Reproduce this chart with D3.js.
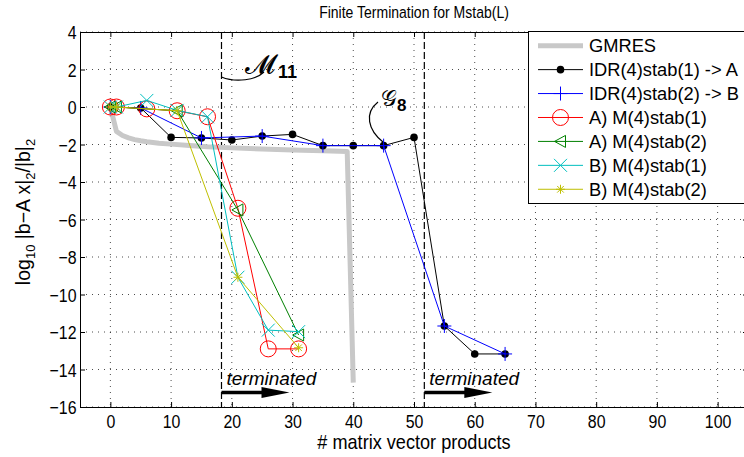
<!DOCTYPE html>
<html><head><meta charset="utf-8">
<script src="https://cdn.jsdelivr.net/npm/d3@7/dist/d3.min.js"></script>
<style>
html,body{margin:0;padding:0;background:#fff;overflow:hidden}
text{font-family:"Liberation Sans",Arial,sans-serif}
</style></head>
<body><svg id="c" width="744" height="457"></svg>
<script>
// ---- data ----
const xTicks = [0,10,20,30,40,50,60,70,80,90,100];
const yTicks = [-16,-14,-12,-10,-8,-6,-4,-2,0,2,4];

const gmresX = [0,1,2,3,4,5,6,8,10,13,16,20,25,30,35,39,40];
const gmresY = [0,-1.3,-1.52,-1.65,-1.74,-1.8,-1.85,-1.93,-1.98,-2.05,-2.12,-2.18,-2.24,-2.29,-2.33,-2.37,-14.7];

const idr1X = [0,5,10,15,20,25,30,35,40,45,50,55,60,65];
const idr1Y = [0,-0.05,-1.62,-1.65,-1.76,-1.55,-1.46,-2.06,-2.06,-2.06,-1.62,-11.68,-13.17,-13.17];

const idr2X = [0,5,15,25,35,45,55,65];
const idr2Y = [0,-0.05,-1.65,-1.55,-2.06,-2.06,-11.68,-13.17];

const a1X = [0,1,6,11,16,21,26,31];
const a1Y = [0,0,-0.1,-0.2,-0.52,-5.4,-12.9,-12.9];

const a2X = [0,1,11,21,31];
const a2Y = [0,0,-0.2,-5.49,-12.16];

const b1X = [0,1,6,11,16,21,26,31];
const b1Y = [0,0,0.35,-0.18,-0.52,-9.08,-11.9,-11.98];

const b2X = [0,1,11,21,31];
const b2Y = [0,0,-0.2,-9.08,-12.84];

const legendLabels = ["GMRES","IDR(4)stab(1) -> A","IDR(4)stab(2) -> B","A) M(4)stab(1)","A) M(4)stab(2)","B) M(4)stab(1)","B) M(4)stab(2)"];
const termX = [18.3, 51.7];

// ---- setup ----
const svg = d3.select("#c");
const L=80, R=748, T=32, B=407;
const x = d3.scaleLinear().domain([-5,105]).range([L,R]);
const y = d3.scaleLinear().domain([-16,4]).range([B,T]);

// grid
const grid = svg.append("g");
xTicks.forEach(t=>grid.append("line").attr("x1",x(t)).attr("x2",x(t)).attr("y1",T).attr("y2",B)
  .attr("stroke","#000").attr("stroke-width",1).attr("stroke-dasharray","1,5").attr("opacity",0.7));
yTicks.forEach(t=>grid.append("line").attr("x1",L).attr("x2",R).attr("y1",y(t)).attr("y2",y(t))
  .attr("stroke","#000").attr("stroke-width",1).attr("stroke-dasharray","1,5").attr("opacity",0.7));

// axes
const fmt = d=> d<0 ? "\u2212"+Math.abs(d) : String(d);
const axB = svg.append("g").attr("transform",`translate(0,${B})`)
  .call(d3.axisBottom(x).tickValues(xTicks).tickSizeInner(-5).tickSizeOuter(0).tickPadding(8).tickFormat(fmt));
const axT = svg.append("g").attr("transform",`translate(0,${T})`)
  .call(d3.axisTop(x).tickValues(xTicks).tickSizeInner(-5).tickSizeOuter(0).tickFormat(""));
const axL = svg.append("g").attr("transform",`translate(${L},0)`)
  .call(d3.axisLeft(y).tickValues(yTicks).tickSizeInner(-5).tickSizeOuter(0).tickPadding(4).tickFormat(fmt));
const axR = svg.append("g").attr("transform",`translate(${R},0)`)
  .call(d3.axisRight(y).tickValues(yTicks).tickSizeInner(-5).tickSizeOuter(0).tickFormat(""));
[axB,axT,axL,axR].forEach(a=>{
  a.selectAll("path").attr("stroke","#000").attr("stroke-width",1);
  a.selectAll("line").attr("stroke","#000");
  a.selectAll("text").attr("font-size",18.5).attr("fill","#000").attr("transform","scale(0.86,1)");
});
axL.selectAll("text").attr("dy","0.36em");

// dashed termination lines
termX.forEach(t=>svg.append("line").attr("x1",x(t)).attr("x2",x(t)).attr("y1",T).attr("y2",B)
  .attr("stroke","#000").attr("stroke-width",1.2).attr("stroke-dasharray","7,3"));

// line helper
const line = d3.line().x(d=>x(d[0])).y(d=>y(d[1]));
const zip = (a,b)=>a.map((v,i)=>[v,b[i]]);

// marker drawers
function mk(g, type, cx, cy, color){
  if(type==="dot") g.append("circle").attr("cx",cx).attr("cy",cy).attr("r",3.8).attr("fill",color);
  else if(type==="plus"){
    g.append("path").attr("d",`M${cx-7},${cy}H${cx+7}M${cx},${cy-7}V${cy+7}`).attr("stroke",color).attr("stroke-width",1);
  } else if(type==="circle") g.append("circle").attr("cx",cx).attr("cy",cy).attr("r",8).attr("fill","none").attr("stroke",color).attr("stroke-width",1);
  else if(type==="tri"){
    g.append("path").attr("d",`M${cx-6},${cy}L${cx+5},${cy-6}L${cx+5},${cy+6}Z`).attr("fill","none").attr("stroke",color).attr("stroke-width",1);
  } else if(type==="x"){
    g.append("path").attr("d",`M${cx-6.5},${cy-6.5}L${cx+6.5},${cy+6.5}M${cx-6.5},${cy+6.5}L${cx+6.5},${cy-6.5}`).attr("stroke",color).attr("stroke-width",1);
  } else if(type==="star"){
    const s=4.5, d=3.3;
    g.append("path").attr("d",`M${cx-s},${cy}H${cx+s}M${cx},${cy-s}V${cy+s}M${cx-d},${cy-d}L${cx+d},${cy+d}M${cx-d},${cy+d}L${cx+d},${cy-d}`).attr("stroke",color).attr("stroke-width",1);
  }
}

const series = [
  {X:idr1X,Y:idr1Y,c:"#000000",m:"dot"},
  {X:idr2X,Y:idr2Y,c:"#0000ff",m:"plus"},
  {X:a1X,Y:a1Y,c:"#ff0000",m:"circle"},
  {X:a2X,Y:a2Y,c:"#008000",m:"tri"},
  {X:b1X,Y:b1Y,c:"#00bfbf",m:"x"},
  {X:b2X,Y:b2Y,c:"#bfbf00",m:"star"}
];

// GMRES
svg.append("path").datum(zip(gmresX,gmresY)).attr("d",line).attr("fill","none")
  .attr("stroke","#c8c8c8").attr("stroke-width",5).attr("stroke-linejoin","round");

series.forEach(s=>{
  const g = svg.append("g");
  const data = zip(s.X,s.Y);
  g.append("path").datum(data).attr("d",line).attr("fill","none").attr("stroke",s.c).attr("stroke-width",1);
  data.forEach(d=>mk(g,s.m,x(d[0]),y(d[1]),s.c));
});

// annotations
svg.append("path").attr("d",`M${x(18.3)},77 C236,83 256,80 264,72`).attr("fill","none").attr("stroke","#000").attr("stroke-width",1.2);
const mt = svg.append("text").attr("x",245).attr("y",73).attr("font-family","DejaVu Serif, serif").attr("font-size",27);
mt.append("tspan").text("\u{1D4DC}");
mt.append("tspan").attr("x",278).attr("y",78).attr("font-size",18).attr("font-weight","bold").text("11");

svg.append("path").attr("d",`M378,102 C364,113 368,130 383,142`).attr("fill","none").attr("stroke","#000").attr("stroke-width",1.2);
const gt = svg.append("text").attr("x",381).attr("y",106).attr("font-family","DejaVu Serif, serif").attr("font-size",22);
gt.append("tspan").text("\u{1D4A2}");
gt.append("tspan").attr("x",397).attr("y",111).attr("font-size",17).attr("font-weight","bold").text("8");

// terminated + arrows
termX.forEach(t=>{
  const x0 = x(t);
  svg.append("text").attr("x",x0+5).attr("y",385).attr("font-family","DejaVu Sans, sans-serif")
    .attr("font-style","italic").attr("font-size",19).attr("fill","#000").text("terminated");
  svg.append("line").attr("x1",x0).attr("x2",x0+42).attr("y1",392.5).attr("y2",392.5).attr("stroke","#000").attr("stroke-width",3.5);
  svg.append("path").attr("d",`M${x0+40},387 L${x0+68},392.5 L${x0+40},398 Z`).attr("fill","#000");
});

// legend
const lg = svg.append("g");
lg.append("rect").attr("x",528.5).attr("y",31.5).attr("width",220).attr("height",172).attr("fill","#fff").attr("stroke","#000").attr("stroke-width",1);
const ly0 = 45.7, ldy = 23.93;
legendLabels.forEach((lab,i)=>{
  const yy = ly0 + i*ldy;
  if(i===0){
    lg.append("line").attr("x1",538).attr("x2",583).attr("y1",yy).attr("y2",yy).attr("stroke","#c8c8c8").attr("stroke-width",5);
  } else {
    const s = series[i-1];
    lg.append("line").attr("x1",538).attr("x2",583).attr("y1",yy).attr("y2",yy).attr("stroke",s.c).attr("stroke-width",1);
    mk(lg,s.m,560.5,yy,s.c);
  }
  lg.append("text").attr("x",589).attr("y",yy+6.3).attr("font-size",18.3).attr("fill","#000").text(lab);
});

// titles
svg.append("text").attr("transform","translate(414,18) scale(0.85,1)").attr("text-anchor","middle").attr("font-size",16.5).text("Finite Termination for Mstab(L)");
svg.append("text").attr("transform","translate(414,449) scale(0.93,1)").attr("text-anchor","middle").attr("font-size",19.5).text("# matrix vector products");
const yl = svg.append("text").attr("transform","translate(30,212) rotate(-90)").attr("text-anchor","middle").attr("font-size",19.5);
yl.append("tspan").text("log");
yl.append("tspan").attr("font-size",13).attr("dy",5).text("10");
yl.append("tspan").attr("dy",-5).text(" |b\u2212A x|");
yl.append("tspan").attr("font-size",13).attr("dy",5).text("2");
yl.append("tspan").attr("dy",-5).text("/|b|");
yl.append("tspan").attr("font-size",13).attr("dy",5).text("2");
</script></body></html>
